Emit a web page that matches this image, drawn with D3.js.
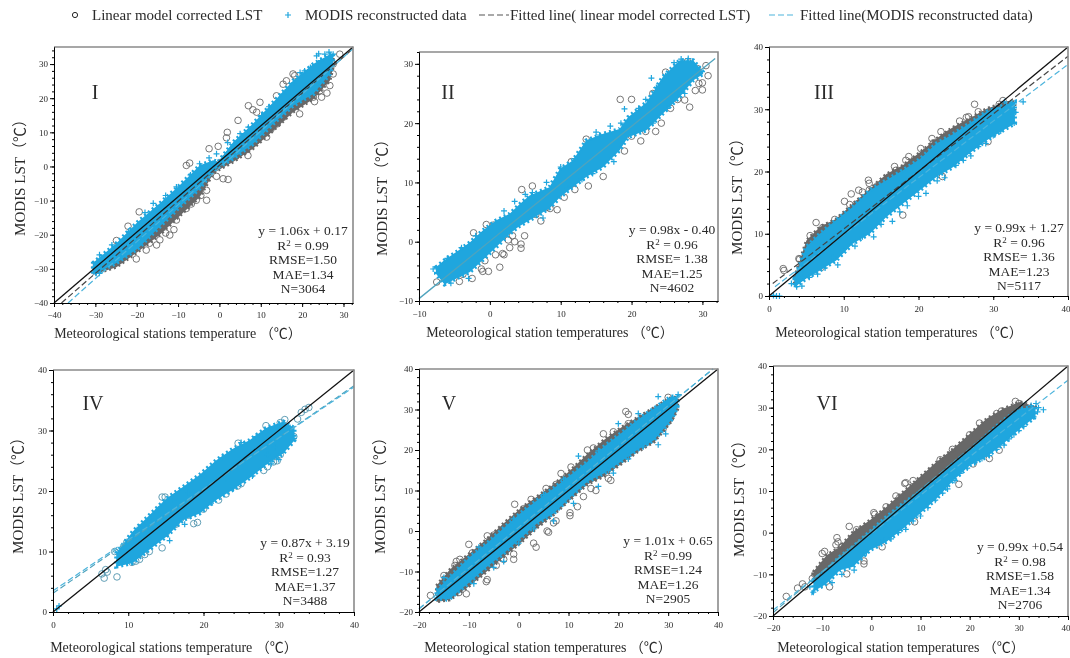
<!DOCTYPE html>
<html>
<head>
<meta charset="utf-8">
<title>MODIS LST scatter panels</title>
<script src="https://cdn.jsdelivr.net/npm/d3@7"></script>
<style>
  body { margin: 0; background: #fff; }
  svg { display: block; filter: blur(0.45px); }
  text { font-family: "Liberation Serif", "Noto Sans CJK SC", serif; fill: #2a2a2a; }
</style>
</head>
<body>
<svg id="chart" width="1070" height="658"></svg>
<script>
// legend labels
const legendLabels = [
  "Linear model corrected LST",
  "MODIS reconstructed data",
  "Fitted line( linear model corrected LST)",
  "Fitted line(MODIS reconstructed data)"
];

// panel I
const p1Stops = [-30.6, -24.9, -19.7, -14.4, -9.6, -4.8, -1.5, -0.3, 3.3, 8.1, 13, 17.8, 22.7, 26.7, 27.5];
const p1BlueHigh = [-28.3, -22.5, -16.2, -10.8, -5.5, 0.3, 1.8, 1.3, 7.1, 12.5, 18.8, 25.1, 30, 32.9, 33.1];
const p1BlueLow = [-31.7, -28.3, -24, -17.6, -11.8, -6.5, -1.1, -0.2, 2.3, 6.6, 12.5, 17.8, 21.2, 27.1, 30];
const p1GreyHigh = [-28.3, -24, -18, -12, -7, -1, 1, 1, 6, 11, 17, 23, 28, 31, 32];
const p1GreyLow = [-31.7, -29.5, -25, -20, -14.5, -9, -2.1, -1.1, 1.3, 5.2, 10.5, 15.9, 19.8, 25.1, 29];
const p1Circles = [[-19.4,-13.3],[-22.1,-17.5],[-20.1,-27.1],[-8,0.3],[-7.2,1],[-2.5,5.2],[-0.3,5.9],[1.9,10],[1.7,8.4],[4.5,13.5],[7,17.8],[8.1,16.6],[9,15.9],[9.8,18.8],[13.8,20.7],[17.8,27.1],[16.2,25.1],[15.4,24.1],[-0.7,-2.9],[2.1,-3.8],[0.9,-3.6],[6.9,3.2],[-3.1,-7],[-3.1,-9.9],[-5.6,-9.9],[-12,-20.1],[-15.2,-23],[-14.4,-21.5],[-24.9,-21.7],[-27.1,-28.8],[-25.7,-28.3],[10.2,10],[11.4,8.6],[15.4,14.4],[19.4,15.4],[25.5,27.1],[24.7,20.3],[24.3,22.2],[27.5,27.1],[26.7,23.7],[29.1,32.9],[27.5,30],[9,7.6],[10.6,10.5],[22.7,20.3],[21.9,22.2],[18.2,26.6],[-8,-12.3],[-10.4,-15.7],[-16.9,-22.5],[-17.7,-24.5],[-11,-18.5],[-13,-19.5],[-6.8,-11],[-4.5,-8.5],[4,3],[6,4.5],[12.5,11],[14,12.5],[23,19],[26,21.5],[25,25]];
const p1Plus = [[-16,-10.8],[-10.4,-6],[-4.8,0.8],[-0.7,3.7],[5,9.6],[10.2,14.9],[15.4,21.2],[20.6,28],[23.5,32.4],[25.5,32.9],[27.5,32.9],[-29,-25.9],[-29,-31.3],[-29.8,-31.3],[-22,-19],[-13,-8.5],[2,7],[12,17.5],[18,24.5],[22,29],[24.5,31],[26.5,33.5],[-26,-23],[-18,-13.5],[-7,-2.5],[-2.5,2.5],[7,11.5],[16.5,22.5],[19.5,27.5],[24,33]];
const p1Ones = [[-40, -40], [32.3, 35]];
const p1FitGrey = [[-38.2, -40], [32.3, 34.5]];
const p1FitBlue = [[-36.6, -40], [32.3, 34.5]];

// panel II
const p2Stops = [-7.6, -6.4, -4.7, -2.8, -1, 0.9, 2.8, 4, 5.6, 8.4, 9.9, 11.7, 13.6, 16, 18.3, 19.5, 22.1, 24.4, 26.8, 28.7, 30.1];
const p2BlueHigh = [-4.3, -3.1, -1.7, -0.1, 1.9, 3.6, 4.7, 6.1, 7.8, 9.2, 12.3, 13.7, 17.1, 18.2, 19, 21, 23.5, 27.8, 30.6, 30.6, 28.6];
const p2BlueLow = [-5.4, -7.2, -6.2, -5.1, -3.1, -0.9, 1.3, 2.5, 3.6, 5.6, 7.5, 9.2, 10.9, 12.6, 15.4, 17.6, 18.8, 21.6, 24.4, 27.2, 28.3];
const p2Circles = [[-7.5,-6.8],[-4.3,-6.7],[-2.5,-6.2],[-2.3,1.5],[-0.7,-3.2],[-1.2,-4.6],[-1,-5],[-0.2,-5],[1.4,-4.3],[2,-2.2],[4.4,-0.4],[4.4,-1.1],[2.6,0.3],[4.5,8.8],[6,9.4],[7.2,3.5],[9.5,5.4],[8.5,5.6],[13.9,9.4],[16,11],[21.3,17],[23.4,18.6],[18.4,24],[20,24],[23,25],[24.8,28.6],[26.5,24],[28.2,22.7],[27.5,23.9],[30,25.6],[30,26.8],[30.8,28],[30.5,29.7],[29.3,29.2],[27.9,30.4],[4.9,1],[3.5,0],[2.8,-1],[-3.8,-5.5],[13.6,17.3],[11.5,13.5],[9,8.4],[24.2,20],[25.5,22.5],[21,19.5],[-0.5,2.9],[0.5,2.8],[0.8,-2.2],[1.8,-2],[3.2,1],[6.5,4.6],[8,5.8],[10.5,7.5],[12,8.8],[19,15.3],[20,17.8],[22,18.6],[29,25.5],[29.5,26.7]];
const p2Plus = [[-8,-4.6],[-7.2,-4.8],[-5.5,-7],[-3,-6.2],[2,5.2],[6,8.3],[8,10],[10,12.6],[12,14],[15.5,18],[17,19.5],[22,24],[23.5,26],[24.8,28],[22.8,27.6],[27,30.8],[28,30.9],[29.5,29],[19,22.4],[14.5,11.5],[26.5,25],[-6,-2.8],[-4,-1],[-2,1],[3.5,6.8],[5,8],[7.5,4],[11,9],[13,10.5],[15,18.5],[17.5,13.5],[18.5,20],[21,22.5],[23,20],[25,22.5],[27.5,25],[26,30.2]];
const p2Ones = [[-10, -9.6], [31.8, 30.9]];

// panel III
const p3Stops = [3.4, 5, 6.8, 9, 11.2, 13.5, 15.7, 17.9, 20.2, 22.4, 24.6, 26.8, 29.1, 31.3, 32.9];
const p3BlueHigh = [2.8, 7.9, 10, 12.2, 14.3, 17, 18.6, 20.2, 22, 24.5, 26, 27.7, 29.6, 30.6, 31.2];
const p3BlueLow = [1.4, 2.8, 4.1, 5.7, 8.4, 10, 12.7, 14.8, 17, 19.1, 20.7, 22.9, 25, 26.6, 27.7];
const p3GreyHigh = [3, 8.9, 11.1, 12.4, 14.8, 17.2, 19.6, 21, 23.1, 25.3, 27.1, 28.5, 30.1, 31, 31.2];
const p3GreyLow = [2, 6, 8, 10, 12, 14, 16, 18, 20, 22, 24, 26, 28, 29, 30];
const p3Circles = [[1.9,4.4],[2,4.1],[4,6],[4.1,5.9],[6.3,11.8],[5.5,9.7],[6.5,9.9],[7.2,11],[8,11.2],[8.8,12.3],[10.1,15.2],[10.8,14.7],[11,16.4],[11.8,14.8],[12,17],[12.5,16.7],[13.4,18.1],[13.3,18.6],[13.4,17],[14.5,17.7],[16.8,20.8],[17,20.2],[18.3,21.8],[18.7,22.4],[19.5,21.8],[20.3,23.7],[21.8,25.3],[22,24.6],[23,26.4],[24,26],[25.5,28.1],[26.4,28.7],[26.7,28.8],[27.5,30.8],[28,29.6],[29.3,24.8],[30.8,30.8],[31.3,31.4],[23.2,19.2],[17.9,13],[15,15.2],[11.9,10.3],[8,6.4],[7,4.6]];
const p3Plus = [[0.6,0.1],[1,0],[1.4,0],[3,2],[3.7,1.5],[4.4,1.6],[4.6,3],[5.4,3],[5.8,3.5],[7.5,4.5],[8.5,6.2],[10,7.5],[12.5,9.5],[15,11.5],[17.5,13.5],[20,16],[22.5,18.5],[25,21],[27,22.5],[29,24.5],[31,26.5],[32.8,27.8],[33,29.5],[32.5,31],[34,31.2],[32.4,29],[31.5,31.2],[6.5,3.5],[9.2,5],[11.5,8],[14,9.5],[16.5,12],[18.5,14.5],[21,16.5],[23.5,19],[26,21.8],[28,24],[30,25.8]];
const p3Ones = [[0, 0], [40, 40]];
const p3FitGrey = [[0.5, 2], [40, 38.5]];
const p3FitBlue = [[0.8, 1.5], [40, 37.2]];

// panel IV
const p4Stops = [8.4, 10.6, 12.8, 15.1, 17.3, 19.5, 21.7, 23.9, 26.1, 28.3, 30.6, 32.1];
const p4BlueHigh = [9.7, 13.3, 16, 18.8, 20.7, 22.7, 25.1, 27, 28.4, 30.4, 31.5, 30.4];
const p4BlueLow = [7.5, 8.1, 10.3, 12.5, 15.2, 16.3, 18.5, 20.2, 22.1, 24.3, 26.2, 28.4];
const p4Circles = [[6.8,5.6],[7.2,6.6],[6.5,6.3],[8.5,5.8],[8.2,10],[9,9.5],[10.5,8.2],[11,8.4],[11.5,8.7],[12.2,9.5],[12.8,10],[13.2,12],[14.5,10.6],[14.5,19],[14.9,19],[15,13],[16.3,14.5],[17,15.5],[18.7,14.6],[19.2,14.8],[18,16],[20,17],[22,18.5],[23,19.5],[24.5,20.8],[25,21.2],[24.6,27.9],[28,23.4],[28.5,24],[29.3,24.8],[29.8,25],[30.2,26],[28.3,30.8],[30.2,31.3],[30.8,31.8],[31.5,29.7],[32,29],[33,33],[33.5,33.5],[34,33.8],[32.5,31.9],[9.8,11.5],[7,7]];
const p4Plus = [[0.5,0.5],[0.8,1],[9.3,8.5],[9,10.2],[10.8,12.5],[12,10],[13,15.6],[15.5,11.8],[16,18.5],[18,19.7],[20,22.5],[22.5,25.5],[25,28],[27,29],[28.5,26],[30,25.2],[31.5,30.5],[32,28.7],[29.5,27.2],[23,22],[11.5,14],[14,17],[17.5,14.5],[21,18],[24,20.5],[26.5,22.5],[29,24.5]];
const p4Ones = [[0, 0], [40, 40]];
const p4FitGrey = [[0, 3.1], [40, 37.4]];
const p4FitBlue = [[0, 3.5], [40, 37.2]];

// panel V
const p5Stops = [-16.5, -13.8, -9.8, -6.4, -3.1, 0.3, 3.7, 7, 10.4, 13.8, 17.1, 20.5, 23.8, 27.2, 30.6, 31.9];
const p5BlueHigh = [-14.6, -11.3, -6.4, -3.1, 0.6, 4.3, 7.6, 10.5, 13.8, 17.1, 20.8, 24.1, 27.4, 30.3, 33.2, 33.2];
const p5BlueLow = [-16.7, -16.7, -12.6, -8.9, -5.6, -1.9, 1.9, 4.3, 8.4, 12.2, 14.2, 17.1, 20, 22.5, 27.4, 30.7];
const p5GreyHigh = [-13.5, -9.5, -5.5, -2, 1.8, 5.5, 8.5, 11.5, 15, 19, 22.5, 25.5, 28, 30.5, 33, 33];
const p5GreyLow = [-17.5, -17, -13.5, -10, -6.5, -3, 0.8, 4, 7.8, 11.5, 13.5, 16.5, 19.5, 22, 27, 30];
const p5Circles = [[-17.7,-15.9],[-15,-11],[-15.3,-13.6],[-12.8,-8.5],[-12.5,-7.5],[-11.8,-7],[-12,-15.2],[-10.5,-15.5],[-10,-3.3],[-9.3,-5.4],[-8,-5.7],[-6.3,-1.2],[-6.3,-12],[-6.5,-12.5],[-5,-1],[-4.5,-8.5],[-3,-7],[-1,-5.7],[-1,-7],[-0.8,6.6],[1,5.5],[2.5,7.8],[3,-3],[3.5,-4],[5.7,0],[6,-0.3],[7,2],[7.5,2.5],[5.5,10.5],[7.5,11.5],[8.5,14.2],[10.5,15.8],[10.3,3.8],[10.3,4.5],[11.8,6],[13,8.5],[13.8,20],[15,20.5],[14.5,10.5],[15.5,10],[17,24],[19,24.5],[18,13],[18.5,12.5],[21.5,29.5],[22,28.8],[22,26.5],[29,27.7],[30.5,27.9],[29,25.3],[30,33]];
const p5Plus = [[-15,-11.5],[-14.5,-16.7],[-11,-12.5],[-9,-13],[-5,-9],[-3,-7.5],[0,-3],[3,0.5],[7,2.5],[11,6.8],[13,12],[16,11],[19,14.3],[22,17.8],[25,20.8],[28,21.3],[29.5,24],[31,32.5],[32,33.7],[28,33.2],[24,29],[20,26.5],[12,18.5],[5,9],[-8,-4],[-1,3],[9,12.8],[16,19.8],[26,22],[18,15],[-12,-14]];
const p5Ones = [[-20, -20], [40, 40]];
const p5FitGrey = [[-20, -19.2], [39, 40]];
const p5FitBlue = [[-20, -19.2], [39, 40]];

// panel VI
const p6Stops = [-11.8, -9.1, -6.4, -3.7, -0.3, 3.1, 6.5, 9.9, 13.3, 16.7, 20.1, 23.5, 26.9, 30.3, 33.4];
const p6BlueHigh = [-11.4, -9, -5.8, -3.4, 0.2, 3.8, 7, 9.8, 13, 16.6, 19.8, 23.4, 27, 29.8, 30.2];
const p6BlueLow = [-14.2, -12.2, -9, -8.2, -4.2, -2.2, 1, 4.6, 8.2, 12.6, 16.2, 18.2, 21.4, 25, 27.8];
const p6GreyHigh = [-9.4, -5.4, -3.4, 0.2, 3, 6.2, 9.8, 13.4, 17, 20.2, 23.8, 27.4, 29.8, 31.4, 30.2];
const p6GreyLow = [-12, -9.5, -6.5, -3.8, 0, 3.2, 6.5, 9.8, 13, 16.5, 19.8, 23.2, 26.8, 29.6, 30];
const p6Circles = [[-17.3,-15.3],[-15,-13.3],[-14,-12.3],[-13.5,-13],[-12,-11],[-11.5,-10],[-10,-5],[-9.5,-4.5],[-7,-1.2],[-6.8,-2.2],[-7.2,-2.9],[-6,-3.5],[-4.5,1.5],[-3,0.7],[-1.5,-6.8],[-1.5,-7.5],[0.5,4.8],[0.7,4.4],[3,6.2],[5,8.8],[5.8,8.5],[6.8,11.8],[7,12],[8.5,12.5],[2.2,-3.4],[-5,-9.9],[-8.5,-13],[8.8,2.6],[14,17.5],[16.5,20],[17.8,11.6],[20.7,16.5],[24,17.8],[26,19.8],[20,23.5],[22,26.3],[25.5,28.6],[26.5,29.2],[29.3,31.5],[30,31]];
const p6Plus = [[-11.8,-14.3],[-12.5,-13],[-10,-12.5],[-8,-12],[-6,-10],[-3.5,-9],[-1,-4.8],[1,-3],[4,-1.5],[7,0.8],[10,4],[13,7.8],[15.5,10.5],[18,14.2],[21,16.8],[24,18.5],[27,21],[29,23.5],[31,25.5],[33,27.8],[33.8,29],[34,30],[33.5,31],[32.5,30.5],[35,29.5],[2.5,-1.8],[5.5,0],[8.5,2.8],[11.5,6],[14.5,9.5],[17,12.5],[19.5,15.5],[22.5,17.8],[25.5,20],[28,22.5],[30,24.5]];
const p6Ones = [[-20, -20], [40, 40]];
const p6FitGrey = [[-20, -19.2], [32, 32]];
const p6FitBlue = [[-20, -18.6], [40, 36.6]];

// axis ticks
const ticks1X = [-40, -30, -20, -10, 0, 10, 20, 30];
const ticks1Y = [-40, -30, -20, -10, 0, 10, 20, 30];
const ticks2 = [-10, 0, 10, 20, 30];
const ticks3 = [0, 10, 20, 30, 40];
const ticks5 = [-20, -10, 0, 10, 20, 30, 40];

const blue = "#1fa6de", grey = "#686868", teal = "#4fa3bd";
const svg = d3.select("#chart");

function drawPanel(o) {
  const { left, right, top, bottom } = o.box;
  const x = d3.scaleLinear().domain(o.xDomain).range([left, right]);
  const y = d3.scaleLinear().domain(o.yDomain).range([bottom, top]);
  const g = svg.append("g");

  const band = (lo, hi) =>
    d3.area().x((d, i) => x(o.stops[i])).y0((d, i) => y(lo[i])).y1((d, i) => y(hi[i]))(o.stops);

  // dashed stroke roughens the band edge so it reads like piled up markers
  if (o.greyLow) g.append("path").attr("d", band(o.greyLow, o.greyHigh)).attr("fill", grey)
    .attr("stroke", grey).attr("stroke-width", 3).attr("stroke-dasharray", "2 3");

  g.selectAll(".c").data(o.circles).join("circle")
    .attr("cx", (d) => x(d[0])).attr("cy", (d) => y(d[1])).attr("r", 3.3)
    .attr("fill", "none").attr("stroke", o.circleColor || grey).attr("stroke-width", 0.9);

  g.append("path").attr("d", band(o.blueLow, o.blueHigh)).attr("fill", blue)
    .attr("stroke", blue).attr("stroke-width", 4).attr("stroke-dasharray", "2 3");

  g.selectAll(".p").data(o.plus).join("path")
    .attr("transform", (d) => `translate(${x(d[0])},${y(d[1])})`)
    .attr("d", "M-3,0H3M0,-3V3").attr("stroke", blue).attr("stroke-width", 1.2);

  const line = d3.line().x((d) => x(d[0])).y((d) => y(d[1]));
  if (o.fitGrey) g.append("path").attr("d", line(o.fitGrey)).attr("fill", "none")
    .attr("stroke", o.fitGreyColor || "#444").attr("stroke-width", 1.2).attr("stroke-dasharray", "6 3");
  if (o.fitBlue) g.append("path").attr("d", line(o.fitBlue)).attr("fill", "none")
    .attr("stroke", "#4db4dc").attr("stroke-width", 1.2).attr("stroke-dasharray", "6 3");
  g.append("path").attr("d", line(o.ones)).attr("fill", "none")
    .attr("stroke", o.onesColor || "#111").attr("stroke-width", 1.3);

  // frame, top and right edges come out grey in the source
  g.append("path").attr("d", `M${left},${top}H${right}V${bottom}`)
    .attr("fill", "none").attr("stroke", "#8a8a8a").attr("stroke-width", 1.6);

  const xMinor = d3.range(o.xDomain[0], o.xDomain[1] + 0.01, 2);
  const yMinor = d3.range(o.yDomain[0], o.yDomain[1] + 0.01, 2);
  const hideText = (s) => s.call((a) => a.selectAll("text").remove());

  g.append("g").attr("transform", `translate(0,${bottom})`)
    .call(d3.axisBottom(x).tickValues(xMinor).tickSize(2).tickSizeOuter(0)).call(hideText);
  g.append("g").attr("transform", `translate(${left},0)`)
    .call(d3.axisLeft(y).tickValues(yMinor).tickSize(2).tickSizeOuter(0)).call(hideText);
  g.append("g").attr("transform", `translate(0,${bottom})`)
    .call(d3.axisBottom(x).tickValues(o.xTicks).tickSize(4).tickSizeOuter(0).tickPadding(o.xPad))
    .call((a) => a.selectAll("text").style("font-size", "9px")
      // the last label would run off the page edge on the right hand panels
      .filter((d) => x(d) + 5 > 1070).attr("text-anchor", "end").attr("dx", 2));
  g.append("g").attr("transform", `translate(${left},0)`)
    .call(d3.axisLeft(y).tickValues(o.yTicks).tickSize(4).tickSizeOuter(0).tickPadding(2))
    .call((a) => a.selectAll("text").style("font-size", "9px"));

  g.append("text").attr("x", o.xTitle[0]).attr("y", o.xTitle[1]).attr("text-anchor", "middle")
    .style("font-size", "14px").text(o.xLabel);
  g.append("text").attr("transform", `translate(${o.yTitle[0]},${o.yTitle[1]}) rotate(-90)`)
    .attr("text-anchor", "middle").style("font-size", "15px").text("MODIS LST（℃）");
  g.append("text").attr("x", o.roman[0]).attr("y", o.roman[1]).attr("text-anchor", "middle")
    .style("font-size", "20px").text(o.romanLabel);

  const stats = g.append("text").attr("text-anchor", "middle").style("font-size", "13.5px");
  o.notes.forEach((t, i) => {
    const row = stats.append("tspan").attr("x", o.notesAt[0]).attr("y", o.notesAt[1] + i * 14.6);
    if (i === 1) {
      row.append("tspan").text("R");
      row.append("tspan").attr("dy", -4).style("font-size", "9px").text("2");
      row.append("tspan").attr("dy", 4).text(t);
    } else row.text(t);
  });
}

drawPanel({
  box: { left: 54, right: 353, top: 47, bottom: 303 }, xDomain: [-40, 32.3], yDomain: [-40, 35],
  xTicks: ticks1X, yTicks: ticks1Y, xPad: 5,
  stops: p1Stops, blueLow: p1BlueLow, blueHigh: p1BlueHigh, greyLow: p1GreyLow, greyHigh: p1GreyHigh,
  circles: p1Circles, plus: p1Plus, ones: p1Ones, fitGrey: p1FitGrey, fitBlue: p1FitBlue,
  xLabel: "Meteorological stations temperature （℃）", xTitle: [178, 338], yTitle: [25, 174],
  romanLabel: "I", roman: [95, 99],
  notes: ["y = 1.06x + 0.17", " = 0.99", "RMSE=1.50", "MAE=1.34", "N=3064"], notesAt: [303, 235]
});
drawPanel({
  box: { left: 419, right: 718, top: 52, bottom: 301 }, xDomain: [-10, 32.2], yDomain: [-10, 32],
  xTicks: ticks2, yTicks: ticks2, xPad: 6,
  stops: p2Stops, blueLow: p2BlueLow, blueHigh: p2BlueHigh,
  circles: p2Circles, plus: p2Plus, ones: p2Ones, onesColor: teal,
  xLabel: "Meteorological station temperatures （℃）", xTitle: [550, 337], yTitle: [387, 194],
  romanLabel: "II", roman: [448, 99],
  notes: ["y = 0.98x - 0.40", " = 0.96", "RMSE= 1.38", "MAE=1.25", "N=4602"], notesAt: [672, 234]
});
drawPanel({
  box: { left: 769, right: 1068, top: 47, bottom: 296 }, xDomain: [0, 40], yDomain: [0, 40],
  xTicks: ticks3, yTicks: ticks3, xPad: 6,
  stops: p3Stops, blueLow: p3BlueLow, blueHigh: p3BlueHigh, greyLow: p3GreyLow, greyHigh: p3GreyHigh,
  circles: p3Circles, plus: p3Plus, ones: p3Ones, fitGrey: p3FitGrey, fitBlue: p3FitBlue,
  xLabel: "Meteorological station temperatures （℃）", xTitle: [899, 337], yTitle: [742, 193],
  romanLabel: "III", roman: [824, 99],
  notes: ["y = 0.99x + 1.27", " = 0.96", "RMSE= 1.36", "MAE=1.23", "N=5117"], notesAt: [1019, 232]
});
drawPanel({
  box: { left: 53, right: 354, top: 370, bottom: 612 }, xDomain: [0, 40], yDomain: [0, 40],
  xTicks: ticks3, yTicks: ticks3, xPad: 6,
  stops: p4Stops, blueLow: p4BlueLow, blueHigh: p4BlueHigh,
  circles: p4Circles, circleColor: "#4f93ad", plus: p4Plus, ones: p4Ones,
  fitGrey: p4FitGrey, fitGreyColor: teal, fitBlue: p4FitBlue,
  xLabel: "Meteorological stations temperature （℃）", xTitle: [174, 652], yTitle: [23, 492],
  romanLabel: "IV", roman: [93, 410],
  notes: ["y = 0.87x + 3.19", " = 0.93", "RMSE=1.27", "MAE=1.37", "N=3488"], notesAt: [305, 547]
});
drawPanel({
  box: { left: 419, right: 718, top: 369, bottom: 612 }, xDomain: [-20, 40], yDomain: [-20, 40],
  xTicks: ticks5, yTicks: ticks5, xPad: 6,
  stops: p5Stops, blueLow: p5BlueLow, blueHigh: p5BlueHigh, greyLow: p5GreyLow, greyHigh: p5GreyHigh,
  circles: p5Circles, plus: p5Plus, ones: p5Ones, fitGrey: p5FitGrey, fitGreyColor: teal, fitBlue: p5FitBlue,
  xLabel: "Meteorological station temperatures （℃）", xTitle: [548, 652], yTitle: [385, 492],
  romanLabel: "V", roman: [449, 410],
  notes: ["y = 1.01x + 0.65", " =0.99", "RMSE=1.24", "MAE=1.26", "N=2905"], notesAt: [668, 545]
});
drawPanel({
  box: { left: 773, right: 1068, top: 366, bottom: 616 }, xDomain: [-20, 40], yDomain: [-20, 40],
  xTicks: ticks5, yTicks: ticks5, xPad: 5,
  stops: p6Stops, blueLow: p6BlueLow, blueHigh: p6BlueHigh, greyLow: p6GreyLow, greyHigh: p6GreyHigh,
  circles: p6Circles, plus: p6Plus, ones: p6Ones, fitGrey: p6FitGrey, fitGreyColor: teal, fitBlue: p6FitBlue,
  xLabel: "Meteorological station temperatures （℃）", xTitle: [901, 652], yTitle: [744, 495],
  romanLabel: "VI", roman: [827, 410],
  notes: ["y = 0.99x +0.54", " = 0.98", "RMSE=1.58", "MAE=1.34", "N=2706"], notesAt: [1020, 551]
});

// legend across the top
const legend = svg.append("g").style("font-size", "15px");
legend.append("circle").attr("cx", 75).attr("cy", 15).attr("r", 2.6).attr("fill", "none").attr("stroke", "#222");
legend.append("text").attr("x", 92).attr("y", 20).text(legendLabels[0]);
legend.append("path").attr("d", "M285,15H291M288,12V18").attr("stroke", blue).attr("stroke-width", 1.2);
legend.append("text").attr("x", 305).attr("y", 20).text(legendLabels[1]);
legend.append("path").attr("d", "M479,15H509").attr("stroke", "#555").attr("stroke-width", 1.2).attr("stroke-dasharray", "6 3");
legend.append("text").attr("x", 510).attr("y", 20).text(legendLabels[2]);
legend.append("path").attr("d", "M769,15H796").attr("stroke", "#4db4dc").attr("stroke-width", 1.2).attr("stroke-dasharray", "6 3");
legend.append("text").attr("x", 800).attr("y", 20).text(legendLabels[3]);
</script>
</body>
</html>
